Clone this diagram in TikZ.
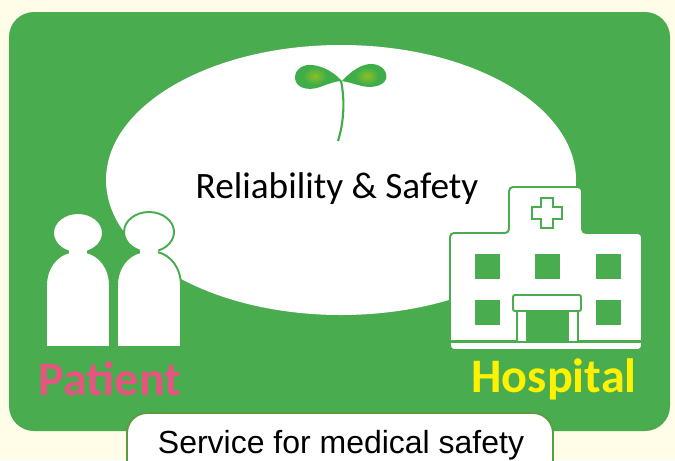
\documentclass[tikz,border=0pt]{standalone}
\usepackage{fontspec}
\setmainfont{Carlito}
\newfontfamily\arialfont{Liberation Sans}
\usepackage{tikz}
\definecolor{panelgreen}{HTML}{49AC4E}
\definecolor{cream}{HTML}{FFFDE7}
\definecolor{boxgreen}{HTML}{5C9B3F}
\definecolor{patientpink}{HTML}{E5557F}
\definecolor{hospitalyellow}{HTML}{FFF200}
\definecolor{leafcore}{HTML}{8CBF26}
\definecolor{leafgreen}{HTML}{3FAE49}
\tikzset{
	outline/.style={draw=panelgreen, line width=1.1pt, fill=white},
	pane/.style={fill=panelgreen},
	title/.style={inner sep=0pt, text=black, font=\fontsize{21.2}{25}\selectfont},
	caption/.style={inner sep=0pt, font=\fontsize{27.4}{32}\selectfont\bfseries}
}
\newcommand{\person}[3] % {x}{body x offset}{head y}
{
	\draw [outline] (#1-#2,347) -- (#1-#2,286) .. controls (#1-#2,268) and (#1-22,255) .. (#1-8,252) -- (#1+8,252) .. controls (#1+22,255) and (#1+#2,268) .. (#1+#2,286) -- (#1+#2,347) -- cycle;
	\draw [outline] (#1,#3) ellipse [x radius=25, y radius=20];
	\fill [white] (#1-9,246) rectangle (#1+9,257);
}
\newcommand{\pane}[2] % {x}{y}
{
	\fill [pane] (#1,#2) rectangle (#1+25,#2+25);
}
\begin{document}
\begin{tikzpicture}[x=0.02cm,y=-0.02cm]
	\useasboundingbox (0,0) rectangle (675,460);
	\clip (0,0) rectangle (675,460);
	\fill [cream] (0,0) rectangle (675,460);
	\fill [panelgreen, rounded corners=0.5cm] (9,12) rectangle (670,431);
	\fill [white] (341,180) ellipse [x radius=235, y radius=135];

	%sprout
	\draw [leafgreen, line width=1.2pt] (341,81) .. controls (345,100) and (344,122) .. (338,141);
	\fill [leafgreen] (342,81) .. controls (332,70) and (318,64) .. (307,65) .. controls (297,67) and (293,75) .. (296,82) .. controls (300,90) and (312,90) .. (320,87) .. controls (328,84) and (336,81) .. (342,81) -- cycle;
	\fill [leafgreen] (342,81) .. controls (350,72) and (362,63) .. (373,64) .. controls (382,65) and (388,72) .. (386,79) .. controls (383,87) and (370,88) .. (362,86) .. controls (354,84) and (348,82) .. (342,81) -- cycle;
	\shade [inner color=leafcore, outer color=leafgreen] (315,76) ellipse [x radius=12, y radius=9];
	\shade [inner color=leafcore, outer color=leafgreen] (367,76) ellipse [x radius=12, y radius=9];

	\node [title] (reliability) at (337,189) {Reliability \& Safety};

	%patients
	\person{78}{32}{233}
	\person{149}{32}{232}
	\node [caption, text=patientpink] (patient) at (110,379) {Patient};

	%hospital
	\draw [outline, rounded corners=0.08cm] (450,350) -- (450,233) -- (509,233) -- (509,187) -- (582,187) -- (582,233) -- (642,233) -- (642,350) -- cycle;
	\fill [panelgreen] (450,340) rectangle (642,343);
	\draw [draw=panelgreen, line width=1.5pt, fill=white] (541,198) -- (553,198) -- (553,207) -- (562,207) -- (562,219) -- (553,219) -- (553,228) -- (541,228) -- (541,219) -- (532,219) -- (532,207) -- (541,207) -- cycle;
	\pane{475}{254}
	\pane{535}{254}
	\pane{596}{254}
	\pane{475}{300}
	\pane{596}{300}
	\fill [panelgreen] (516,311) rectangle (579,341);
	\fill [white] (518,311) rectangle (526,341);
	\fill [white] (569,311) rectangle (577,341);
	\draw [outline, rounded corners=0.04cm] (513,295) rectangle (581,311);
	\node [caption, text=hospitalyellow] (hospital) at (554,379) {Hospital};

	%service
	\draw [draw=boxgreen, line width=1.1pt, fill=white, rounded corners=0.4cm] (127,490) -- (127,413) -- (553,413) -- (553,490) -- cycle;
	\node [inner sep=0pt, text=black, font=\arialfont\fontsize{18.2}{22}\selectfont] (service) at (341,445) {Service for medical safety};
\end{tikzpicture}
\end{document}
